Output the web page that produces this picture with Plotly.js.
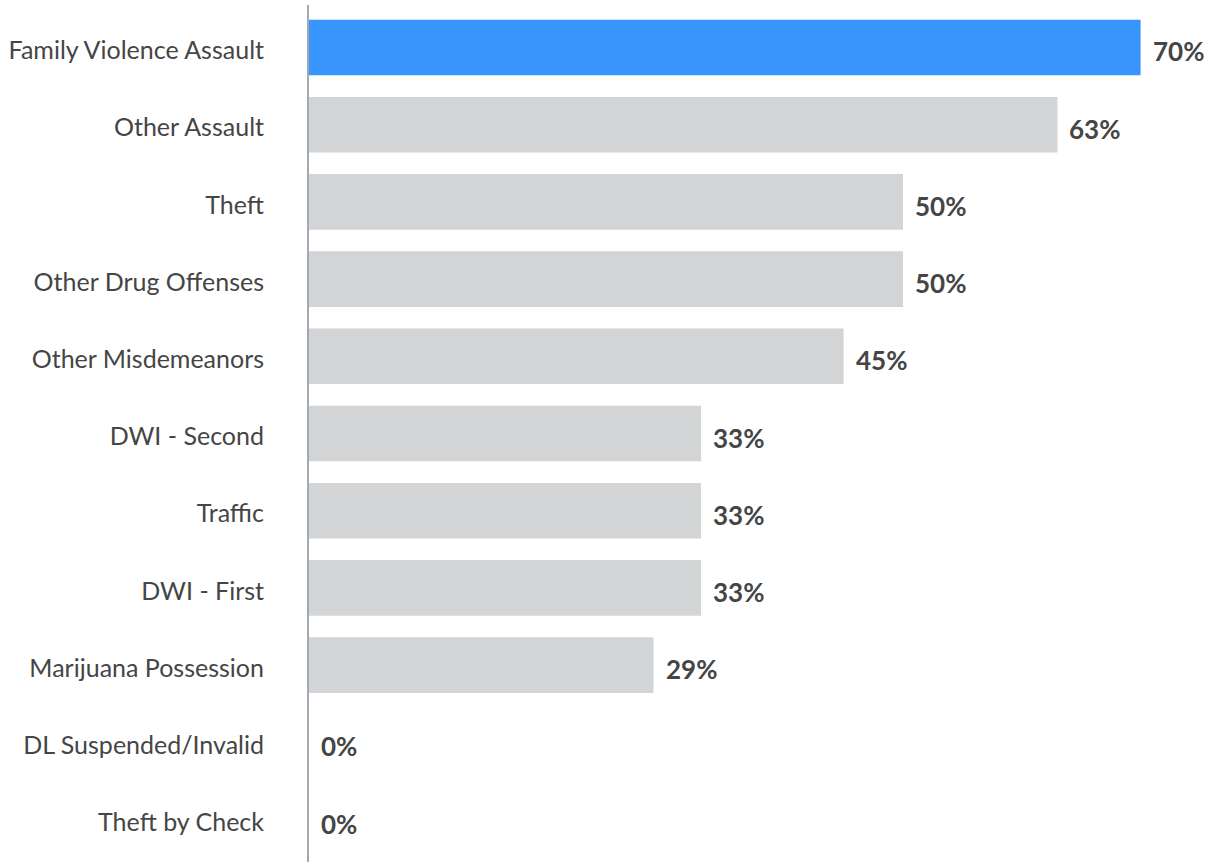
<!DOCTYPE html>
<html><head><meta charset="utf-8">
<script src="https://cdn.plot.ly/plotly-3.0.1.min.js"></script>
<style>html,body{margin:0;padding:0;background:#fff}</style>
</head><body><div id="chart" style="width:1209px;height:862px"></div>
<script>
const categories = ["Family Violence Assault","Other Assault","Theft","Other Drug Offenses","Other Misdemeanors","DWI - Second","Traffic","DWI - First","Marijuana Possession","DL Suspended/Invalid","Theft by Check"];
const values = [70,63,50,50,45,33,33,33,29,0,0];
const highlight = "Family Violence Assault";
const labels = values.map(v => v + "%");

const colors = categories.map(c => c === highlight ? "#3895FC" : "#D3D4D6");

const trace = {
  type: "bar", orientation: "h",
  x: values, y: categories,
  marker: {color: colors},
  width: 0.72,
  hoverinfo: "none"
};

const annotations = categories.map((c, i) => ({
  x: values[i], y: c, xref: "x", yref: "y",
  text: "<b>" + labels[i] + "</b>", showarrow: false,
  xanchor: "left", yanchor: "middle", xshift: 10, yshift: -4,
  font: {family: "Lato, sans-serif", size: 26, color: "#454545"}
}));

const layout = {
  width: 1209, height: 862,
  margin: {l: 309, r: 9, t: 5, b: 0},
  paper_bgcolor: "#fff", plot_bgcolor: "#fff",
  showlegend: false,
  xaxis: {range: [0, 75], visible: false, fixedrange: true},
  yaxis: {
    autorange: false, range: [10.55, -0.55],
    type: "category",
    showline: true, linecolor: "#A2A9B0", linewidth: 2,
    showgrid: false, zeroline: false, ticks: "",
    ticklabelstandoff: 38,
    ticklabelshift: -3,
    tickfont: {family: "Lato, sans-serif", size: 25, color: "#454545"}
  },
  annotations: annotations
};

Plotly.newPlot("chart", [trace], layout, {displayModeBar: false, staticPlot: true});
</script></body></html>
